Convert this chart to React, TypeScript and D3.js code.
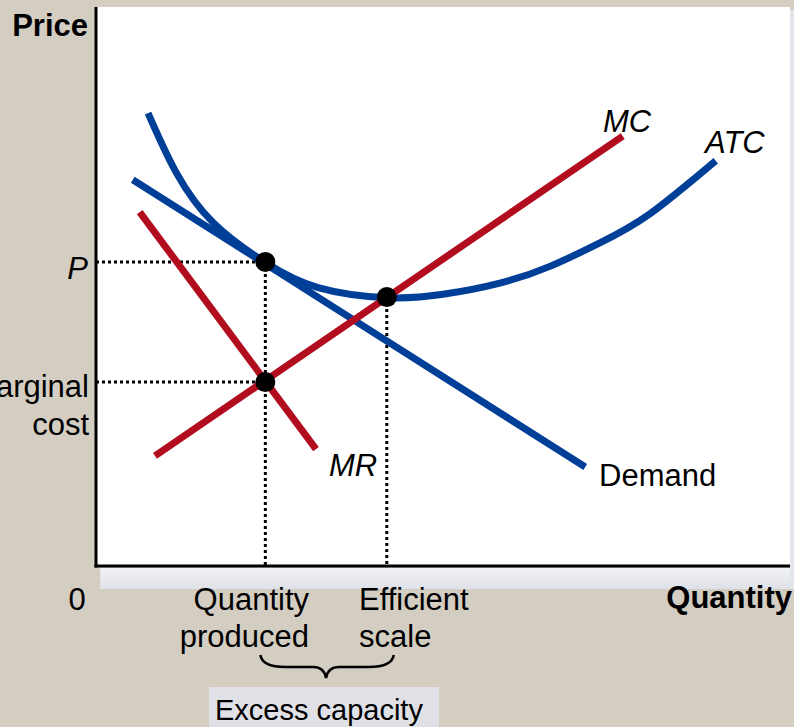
import React from "react";
import * as d3 from "d3";

// curves, in chart units (quantity 0-100, price 0-100)
const demand: [number, number][] = [
  [5.3, 69.1],
  [70.5, 17.7],
];
const marginalRevenue: [number, number][] = [
  [6.3, 63.3],
  [31.7, 20.9],
];
const marginalCost: [number, number][] = [
  [8.5, 19.7],
  [75.9, 76.9],
];
const averageTotalCost: [number, number][] = [
  [7.5, 81.0],
  [11.5, 70.5],
  [16.9, 61.4],
  [24.4, 54.3],
  [32.0, 49.8],
  [41.9, 48.0],
  [50.0, 48.6],
  [58.2, 50.6],
  [65.4, 53.6],
  [72.6, 57.8],
  [79.8, 63.0],
  [89.3, 72.5],
];

const quantityProduced = 24.4;
const efficientScale = 41.9;
const price = 54.4;
const mcAtQuantity = 32.9;
const minAtc = 48.1;

const points: [number, number][] = [
  [quantityProduced, price],
  [quantityProduced, mcAtQuantity],
  [efficientScale, minAtc],
];

const W = 794;
const H = 727;
const BLUE = "#003f98";
const RED = "#b20d1f";
const FONT = "'Liberation Sans', Arial, sans-serif";

export default function App() {
  const x = d3.scaleLinear().domain([0, 100]).range([96, 790]);
  const y = d3.scaleLinear().domain([0, 100]).range([566, 7]);

  const line = d3
    .line<[number, number]>()
    .x((d) => x(d[0]))
    .y((d) => y(d[1]));
  const curve = d3
    .line<[number, number]>()
    .x((d) => x(d[0]))
    .y((d) => y(d[1]))
    .curve(d3.curveNatural);

  const qx = x(quantityProduced);
  const ex = x(efficientScale);
  const mid = (qx + ex) / 2;
  const braceTop = 655;
  const braceMid = 667;
  const braceTip = 678;
  const brace = `M${qx - 5},${braceTop} Q${qx - 3},${braceMid} ${qx + 20},${braceMid} L${mid - 13},${braceMid} Q${mid - 2},${braceMid} ${mid},${braceTip} Q${mid + 2},${braceMid} ${mid + 13},${braceMid} L${ex - 18},${braceMid} Q${ex + 5},${braceMid} ${ex + 7},${braceTop}`;

  return (
    <svg
      width={W}
      height={H}
      style={{ position: "absolute", left: 0, top: 0, fontFamily: FONT }}
    >
      <defs>
        <linearGradient id="shadowB" x1="0" y1="0" x2="0" y2="1">
          <stop offset="0" stopColor="#f0f1f5" />
          <stop offset="1" stopColor="#dfe1e8" />
        </linearGradient>
      </defs>
      <rect width={W} height={H} fill="#d3cdc2" />
      {/* plot panel with shadow */}
      <rect x={x(0.6)} y={568} width={x(100) - x(0.6)} height={21} fill="url(#shadowB)" />
      <rect x={x(100)} y={10} width={W - x(100)} height={579} fill="#e3e5ec" />
      <rect x={x(0)} y={y(100)} width={x(100) - x(0)} height={y(0) - y(100)} fill="#ffffff" />

      {/* dotted guides */}
      <g stroke="#000" strokeWidth={3} strokeDasharray="3,3" fill="none">
        <line x1={x(0)} x2={qx} y1={y(price)} y2={y(price)} />
        <line x1={x(0)} x2={qx} y1={y(mcAtQuantity)} y2={y(mcAtQuantity)} />
        <line x1={qx} x2={qx} y1={y(price)} y2={y(0)} />
        <line x1={ex} x2={ex} y1={y(minAtc)} y2={y(0)} />
      </g>

      {/* curves */}
      <g fill="none" strokeWidth={7} strokeLinecap="butt">
        <path d={line(marginalRevenue) ?? ""} stroke={RED} />
        <path d={line(demand) ?? ""} stroke={BLUE} />
        <path d={curve(averageTotalCost) ?? ""} stroke={BLUE} />
        <path d={line(marginalCost) ?? ""} stroke={RED} />
      </g>

      {points.map((p, i) => (
        <circle key={i} cx={x(p[0])} cy={y(p[1])} r={10} fill="#000" />
      ))}

      {/* axes */}
      <line x1={x(0)} x2={x(0)} y1={y(100)} y2={y(0) + 1.5} stroke="#000" strokeWidth={3} />
      <line x1={x(0) - 1.5} x2={x(100)} y1={y(0)} y2={y(0)} stroke="#000" strokeWidth={3} />

      {/* labels */}
      <g fontSize={31} fill="#000">
        <text x={88} y={36} textAnchor="end" fontWeight="bold">Price</text>
        <text x={792} y={608} textAnchor="end" fontWeight="bold">Quantity</text>
        <text x={77} y={610} textAnchor="middle">0</text>
        <text x={88} y={279} textAnchor="end" fontStyle="italic">P</text>
        <text x={89} y={397} textAnchor="end">Marginal</text>
        <text x={89} y={435} textAnchor="end">cost</text>
        <text x={309} y={610} textAnchor="end">Quantity</text>
        <text x={309} y={647} textAnchor="end">produced</text>
        <text x={359} y={610}>Efficient</text>
        <text x={359} y={647}>scale</text>
        <text x={599} y={486}>Demand</text>
        <text x={329} y={476} fontStyle="italic">MR</text>
        <text x={603} y={132} fontStyle="italic">MC</text>
        <text x={705} y={153} fontStyle="italic">ATC</text>
      </g>

      <path d={brace} fill="none" stroke="#000" strokeWidth={2.5} />
      <rect x={209} y={687} width={230} height={40} fill="#dfe1e6" />
      <text x={215} y={720} fontSize={29}>Excess capacity</text>
    </svg>
  );
}
